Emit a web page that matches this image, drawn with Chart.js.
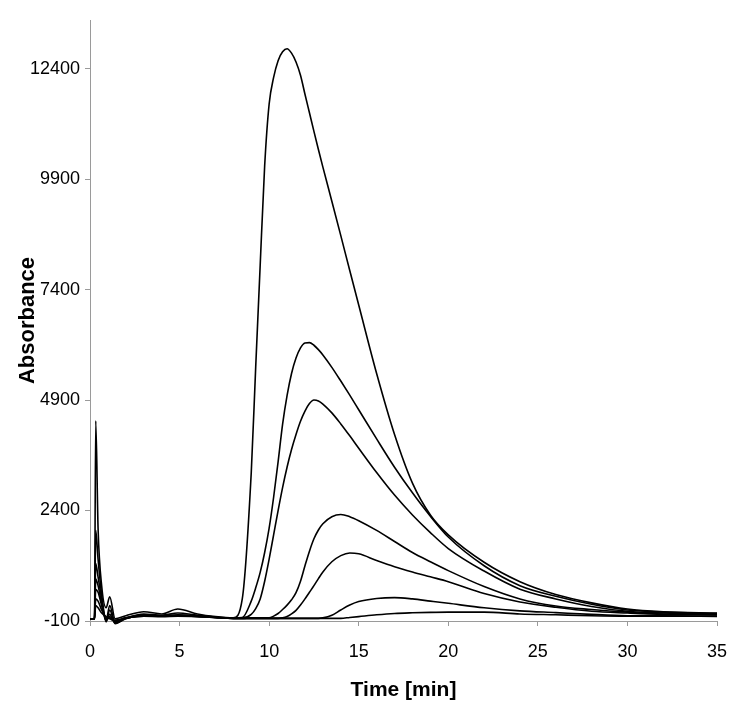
<!DOCTYPE html>
<html>
<head>
<meta charset="utf-8">
<script src="https://cdn.jsdelivr.net/npm/chart.js@4"></script>
<style>
  html, body { margin: 0; padding: 0; background: #fff; }
  canvas { display: block; }
</style>
</head>
<body>
<canvas id="chart" width="748" height="720"></canvas>
<script>
// time axis shared by all runs (min)
const times = [0, 0.25, 0.32, 0.45, 0.65, 0.9, 1.1, 1.4, 2, 3, 4, 4.9, 6, 7, 8,
  8.5, 9, 9.25, 9.5, 9.75, 10, 10.25, 10.5, 10.75, 11, 11.25, 11.5, 11.75, 12,
  12.25, 12.5, 12.75, 13, 13.5, 14, 14.5, 15, 16, 17, 18, 19, 20, 22, 24, 26, 28, 30, 32, 35];

// absorbance, one array per run
const run1 = [-60, -50, 4430, 2000, 700, 200, 450, -50, 20, 110, 60, 170, 60, 0, -30,
  400, 3250, 5650, 7950, 10200, 11600, 12200, 12580, 12780, 12850, 12750, 12550, 12250, 11820,
  11400, 10980, 10570, 10170, 9400, 8620, 7830, 7050, 5500, 4120, 3020, 2300, 1850, 1230, 790, 500, 310, 170, 110, 80];
const run2 = [-60, -50, 1950, 1300, 500, -80, 250, -130, -30, 60, 30, 80, 30, -10, -30,
  -20, 350, 650, 1000, 1450, 2000, 2700, 3500, 4350, 5000, 5500, 5850, 6080, 6190,
  6200, 6140, 6040, 5920, 5640, 5330, 5010, 4680, 4020, 3380, 2800, 2270, 1800, 1150, 700, 460, 280, 150, 100, 70];
const run3 = [-60, -50, 1200, 900, 400, -120, 150, -160, -40, 40, 20, 40, 20, -20, -30,
  -30, 50, 180, 400, 800, 1300, 1850, 2400, 2920, 3380, 3780, 4120, 4420, 4650,
  4820, 4900, 4880, 4810, 4610, 4360, 4090, 3810, 3260, 2750, 2300, 1900, 1540, 1030, 620, 400, 230, 120, 80, 60];
const run4 = [-60, -50, 850, 700, 300, -100, 50, -150, -50, 30, 20, 30, 10, -20, -40,
  -40, -30, -30, -30, -30, -30, 10, 70, 160, 260, 380, 540, 800, 1150,
  1480, 1760, 1960, 2100, 2260, 2310, 2260, 2170, 1950, 1700, 1450, 1240, 1040, 680, 400, 240, 160, 100, 60, 50];
const run5 = [-60, -50, 620, 550, 250, -60, 0, -120, -40, 20, 10, 20, 10, -20, -40,
  -40, -40, -40, -40, -40, -40, -40, -40, -30, 0, 60, 140, 260, 400,
  550, 700, 860, 1010, 1240, 1380, 1440, 1420, 1270, 1130, 1010, 900, 790, 520, 330, 210, 120, 80, 50, 40];
const run6 = [-60, -50, 400, 350, 150, -20, -50, -100, -30, 10, 10, 20, 0, -20, -40,
  -40, -40, -40, -40, -40, -40, -40, -40, -40, -40, -40, -40, -40, -40,
  -40, -40, -40, -30, 30, 150, 260, 340, 410, 430, 400, 350, 300, 200, 130, 90, 50, 20, 15, 10];
const run7 = [-60, -50, 250, 200, 80, 0, -30, -80, -30, 10, 0, 10, 0, -20, -40,
  -40, -40, -40, -40, -40, -40, -40, -40, -40, -40, -40, -40, -40, -40,
  -40, -40, -40, -40, -40, -40, -20, 0, 40, 70, 85, 95, 100, 100, 60, 40, 20, 10, 10, 5];

const runs = [run1, run2, run3, run4, run5, run6, run7];
const yTicks = [-100, 2400, 4900, 7400, 9900, 12400];

const tickFont = { family: 'Arial, "Liberation Sans", sans-serif', size: 18 };
const axisColor = '#9a9a9a';

const datasets = runs.map(function(vals) {
  return {
    data: times.map(function(t, i) { return { x: t, y: vals[i] }; }),
    borderColor: '#000',
    borderWidth: 1.6,
    pointRadius: 0,
    cubicInterpolationMode: 'monotone',
    clip: 6
  };
});

new Chart(document.getElementById('chart'), {
  type: 'line',
  data: { datasets: datasets },
  options: {
    responsive: false,
    animation: false,
    devicePixelRatio: 1,
    layout: { padding: { top: 20, right: 31, left: 0, bottom: 0 } },
    plugins: { legend: { display: false }, tooltip: { enabled: false } },
    scales: {
      x: {
        type: 'linear',
        min: 0,
        max: 35,
        afterFit: function(scale) { scale.height = 99; },
        ticks: { stepSize: 5, color: '#000', font: tickFont, padding: 15, maxRotation: 0 },
        grid: { drawOnChartArea: false, color: axisColor, tickLength: 5 },
        border: { color: axisColor },
        title: {
          display: true,
          text: 'Time [min]',
          color: '#000',
          font: { family: 'Arial, "Liberation Sans", sans-serif', size: 21, weight: 'bold' },
          padding: { top: 0, bottom: 17 }
        }
      },
      y: {
        type: 'linear',
        min: -100,
        max: 13500,
        afterFit: function(scale) { scale.width = 90; },
        afterBuildTicks: function(scale) {
          scale.ticks = yTicks.map(function(v) { return { value: v }; });
        },
        ticks: {
          color: '#000',
          font: tickFont,
          padding: 5,
          callback: function(v) { return String(v); }
        },
        grid: { drawOnChartArea: false, color: axisColor, tickLength: 5 },
        border: { color: axisColor },
        title: {
          display: true,
          text: 'Absorbance',
          color: '#000',
          font: { family: 'Arial, "Liberation Sans", sans-serif', size: 22, weight: 'bold' },
          padding: { top: 15, bottom: 0 }
        }
      }
    }
  }
});
</script>
</body>
</html>
